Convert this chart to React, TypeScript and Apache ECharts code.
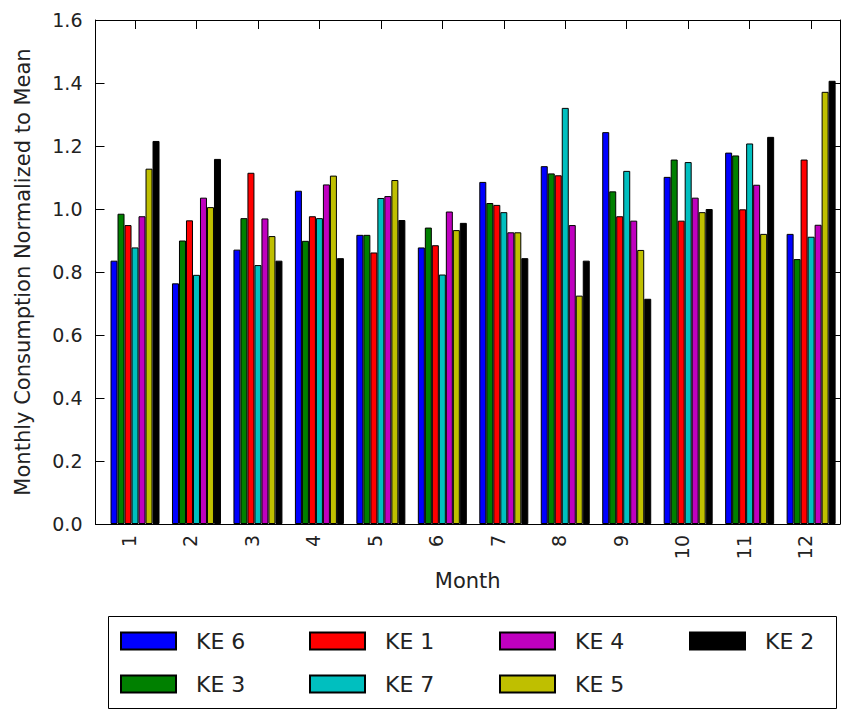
import React, { useEffect, useRef } from "react";
import * as echarts from "echarts";

const months = [1, 2, 3, 4, 5, 6, 7, 8, 9, 10, 11, 12];

const ke6 = [0.836, 0.764, 0.871, 1.058, 0.918, 0.878, 1.086, 1.136, 1.244, 1.102, 1.179, 0.921];
const ke3 = [0.985, 0.9, 0.971, 0.899, 0.918, 0.941, 1.019, 1.113, 1.056, 1.157, 1.17, 0.841];
const ke1 = [0.949, 0.964, 1.115, 0.977, 0.862, 0.885, 1.013, 1.107, 0.977, 0.963, 0.999, 1.157];
const ke7 = [0.878, 0.791, 0.822, 0.971, 1.035, 0.792, 0.99, 1.321, 1.121, 1.149, 1.208, 0.912];
const ke4 = [0.977, 1.036, 0.97, 1.078, 1.041, 0.992, 0.926, 0.949, 0.963, 1.036, 1.077, 0.95];
const ke5 = [1.128, 1.006, 0.914, 1.106, 1.092, 0.933, 0.926, 0.725, 0.87, 0.99, 0.921, 1.372];
const ke2 = [1.216, 1.159, 0.836, 0.844, 0.965, 0.956, 0.844, 0.836, 0.715, 1.0, 1.229, 1.407];

const seriesDefs = [
  { name: "KE 6", color: "#0000ff", values: ke6 },
  { name: "KE 3", color: "#008000", values: ke3 },
  { name: "KE 1", color: "#ff0000", values: ke1 },
  { name: "KE 7", color: "#00bfbf", values: ke7 },
  { name: "KE 4", color: "#bf00bf", values: ke4 },
  { name: "KE 5", color: "#bfbf00", values: ke5 },
  { name: "KE 2", color: "#000000", values: ke2 },
];

// legend layout (column-wise fill, 4 columns)
const legendSlots: Record<string, [number, number]> = {
  "KE 6": [120, 630],
  "KE 3": [120, 673],
  "KE 1": [309, 630],
  "KE 7": [309, 673],
  "KE 4": [499, 630],
  "KE 5": [499, 673],
  "KE 2": [689, 630],
};

const FONT = "DejaVu Sans";

export default function App() {
  const ref = useRef<HTMLDivElement>(null);
  useEffect(() => {
    document.body.style.margin = "0";
    const chart = echarts.init(ref.current!, null, { renderer: "svg" });
    const xMin = 0.357;
    const xMax = 12.47;
    const labelShift = 0.1;
    const tickLen = 9;
    const option: any = {
      animation: false,
      backgroundColor: "#ffffff",
      textStyle: { fontFamily: FONT },
      grid: { left: 95.5, right: 1, top: 20, bottom: 187 },
      xAxis: [
        {
          type: "value",
          min: xMin,
          max: xMax,
          position: "bottom",
          axisLine: { show: true, onZero: false, lineStyle: { color: "#000", width: 1 } },
          axisTick: { show: true, inside: true, length: tickLen, customValues: months, lineStyle: { color: "#000" } },
          axisLabel: { show: false },
          splitLine: { show: false },
        },
        {
          type: "value",
          min: xMin,
          max: xMax,
          position: "top",
          axisLine: { show: true, onZero: false, lineStyle: { color: "#000", width: 1 } },
          axisTick: { show: true, inside: true, length: tickLen, customValues: months, lineStyle: { color: "#000" } },
          axisLabel: { show: false },
          splitLine: { show: false },
        },
        {
          type: "value",
          min: xMin + labelShift,
          max: xMax + labelShift,
          position: "bottom",
          offset: 0,
          name: "Month",
          nameLocation: "middle",
          nameGap: 46,
          nameTextStyle: { fontFamily: FONT, fontSize: 21, color: "#222" },
          axisLine: { show: false },
          axisTick: { show: false },
          axisLabel: {
            show: true,
            customValues: months,
            rotate: 90,
            margin: 11,
            fontFamily: FONT,
            fontSize: 19,
            color: "#222",
            formatter: (v: number) => String(v),
          },
          splitLine: { show: false },
        },
      ],
      yAxis: [
        {
          type: "value",
          min: 0,
          max: 1.6,
          interval: 0.2,
          position: "left",
          name: "Monthly Consumption Normalized to Mean",
          nameLocation: "middle",
          nameGap: 62,
          nameTextStyle: { fontFamily: FONT, fontSize: 21, color: "#222" },
          axisLine: { show: true, lineStyle: { color: "#000", width: 1 } },
          axisTick: { show: true, inside: true, length: tickLen, lineStyle: { color: "#000" } },
          axisLabel: {
            margin: 13,
            fontFamily: FONT,
            fontSize: 19,
            color: "#222",
            formatter: (v: number) => v.toFixed(1),
          },
          splitLine: { show: false },
        },
        {
          type: "value",
          min: 0,
          max: 1.6,
          interval: 0.2,
          position: "right",
          axisLine: { show: true, lineStyle: { color: "#000", width: 1 } },
          axisTick: { show: true, inside: true, length: tickLen, lineStyle: { color: "#000" } },
          axisLabel: { show: false },
          splitLine: { show: false },
        },
      ],
      legend: seriesDefs.map((s) => ({
        data: [s.name],
        left: legendSlots[s.name][0],
        top: legendSlots[s.name][1],
        orient: "horizontal",
        padding: 0,
        itemWidth: 55,
        itemHeight: 17,
        icon: "rect",
        selectedMode: false,
        textStyle: { fontFamily: FONT, fontSize: 22, color: "#222", padding: [0, 0, 0, 15] },
      })),
      graphic: [
        {
          type: "rect",
          shape: { x: 108.5, y: 616.5, width: 728, height: 92 },
          style: { fill: "none", stroke: "#000", lineWidth: 1 },
          silent: true,
        },
      ],
      series: seriesDefs.map((s) => ({
        type: "bar",
        name: s.name,
        xAxisIndex: 0,
        yAxisIndex: 0,
        barWidth: 7,
        barGap: "0%",
        itemStyle: { color: s.color, borderColor: "#000", borderWidth: 1 },
        data: months.map((m, i) => [m, s.values[i]]),
      })),
    };
    chart.setOption(option);
    return () => chart.dispose();
  }, []);
  return (
    <div
      ref={ref}
      style={{ position: "absolute", left: 0, top: 0, width: 841, height: 711 }}
    />
  );
}
